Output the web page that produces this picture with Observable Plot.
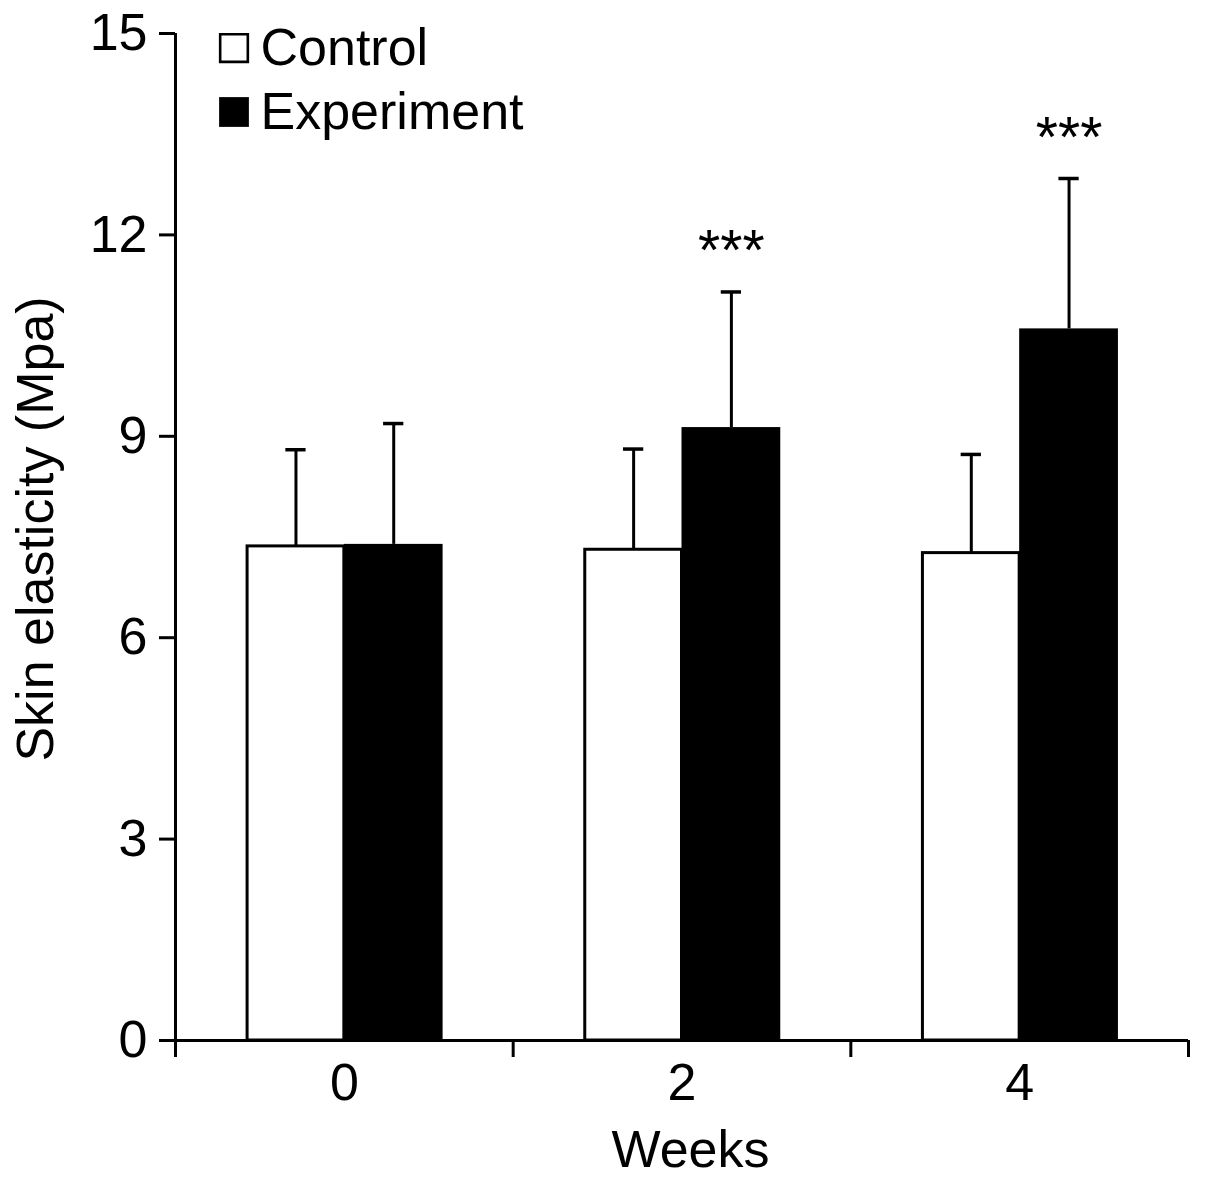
<!DOCTYPE html>
<html>
<head>
<meta charset="utf-8">
<script src="https://cdn.jsdelivr.net/npm/d3@7"></script>
<script src="https://cdn.jsdelivr.net/npm/@observablehq/plot@0.6"></script>
<style>
  html, body { margin: 0; padding: 0; background: #fff; }
  svg { display: block; }
</style>
</head>
<body>
<div id="chart"></div>
<script>
// ---- data ----
const weeks = [0, 2, 4];
const groups = ["Control", "Experiment"];
const controlMean = [7.36, 7.31, 7.26];
const controlSD = [1.44, 1.50, 1.47];
const experimentMean = [7.39, 9.13, 10.60];
const experimentSD = [1.80, 2.02, 2.24];
const significance = ["", "***", "***"];
const yTicks = [0, 3, 6, 9, 12, 15];
const xAxisLabel = "Weeks";
const yAxisLabel = "Skin elasticity (Mpa)";

// ---- table built from the arrays ----
const rows = [];
weeks.forEach((w, i) => {
  rows.push({week: w, group: "Control", mean: controlMean[i], sd: controlSD[i], sig: ""});
  rows.push({week: w, group: "Experiment", mean: experimentMean[i], sd: experimentSD[i], sig: significance[i]});
});

// layout helpers (in x data units; one week-slot spans 2 units)
const xDomain = [weeks[0] - 1, weeks[weeks.length - 1] + 1];
const boundaries = [xDomain[0], ...weeks.map(w => w + 1)];
const span = {Control: [-0.573, 0], Experiment: [0, 0.585]};
const bx1 = d => d.week + span[d.group][0];
const bx2 = d => d.week + span[d.group][1];
const bxc = d => (bx1(d) + bx2(d)) / 2;
const errTop = d => d.mean + d.sd;
const capHalf = 0.06;
const fills = {Control: "white", Experiment: "black"};
const FONT = 52;

const legendMarks = groups.flatMap((g, i) => [
  Plot.dot([g], {frameAnchor: "top-left", dx: 58.5, dy: 14.5 + 64 * i, symbol: "square",
    r: g === "Control" ? 15.6 : 16.8, fill: fills[g], stroke: g === "Control" ? "black" : "none", strokeWidth: 2.6}),
  Plot.text([g], {frameAnchor: "top-left", dx: 85, dy: 15 + 64 * i, text: d => d,
    textAnchor: "start", lineAnchor: "middle", fontSize: FONT, fill: "black"})
]);

const chart = Plot.plot({
  width: 1205,
  height: 1180,
  marginLeft: 175,
  marginRight: 17,
  marginTop: 33,
  marginBottom: 140,
  style: {fontFamily: "'Liberation Sans', Arial, Helvetica, sans-serif", fontSize: FONT + "px", color: "black", background: "white"},
  x: {type: "linear", domain: xDomain, axis: null},
  y: {domain: [0, 15], axis: null},
  marks: [
    // bars
    Plot.rect(rows.filter(d => d.group === "Control"), {x1: bx1, x2: bx2, y1: 0, y2: "mean", fill: "white", stroke: "black", strokeWidth: 3}),
    Plot.rect(rows.filter(d => d.group === "Experiment"), {x1: bx1, x2: bx2, y1: 0, y2: "mean", fill: "black"}),
    // error bars (upper only)
    Plot.ruleX(rows, {x: bxc, y1: "mean", y2: errTop, stroke: "black", strokeWidth: 3}),
    Plot.ruleY(rows, {x1: d => bxc(d) - capHalf, x2: d => bxc(d) + capHalf, y: errTop, stroke: "black", strokeWidth: 3.5}),
    // significance stars
    Plot.text(rows.filter(d => d.sig), {x: bxc, y: errTop, text: "sig", dy: -40, fontSize: 57, lineAnchor: "middle", fill: "black"}),
    // axis lines
    Plot.ruleX([xDomain[0]], {stroke: "black", strokeWidth: 3}),
    Plot.ruleY([0], {stroke: "black", strokeWidth: 3}),
    // y axis
    Plot.axisY({ticks: yTicks, tickSize: 16, tickPadding: 12, fontSize: FONT, strokeWidth: 3, label: null, tickFormat: d => String(d)}),
    // x axis: boundary ticks + week labels
    Plot.axisX({ticks: boundaries, tickSize: 17, strokeWidth: 3, label: null, tickFormat: () => ""}),
    Plot.axisX({ticks: weeks, tickSize: 0, tickPadding: 23, fontSize: FONT, label: null, tickFormat: d => String(d)}),
    // axis titles
    Plot.text([xAxisLabel], {frameAnchor: "bottom", dx: 8.5, dy: 110, text: d => d, fontSize: FONT, textAnchor: "middle", lineAnchor: "middle", fill: "black"}),
    Plot.text([yAxisLabel], {frameAnchor: "left", dx: -139.5, dy: -8, rotate: -90, text: d => d, fontSize: FONT, textAnchor: "middle", lineAnchor: "middle", fill: "black"}),
    // legend
    ...legendMarks
  ]
});
document.getElementById("chart").appendChild(chart);
</script>
</body>
</html>
